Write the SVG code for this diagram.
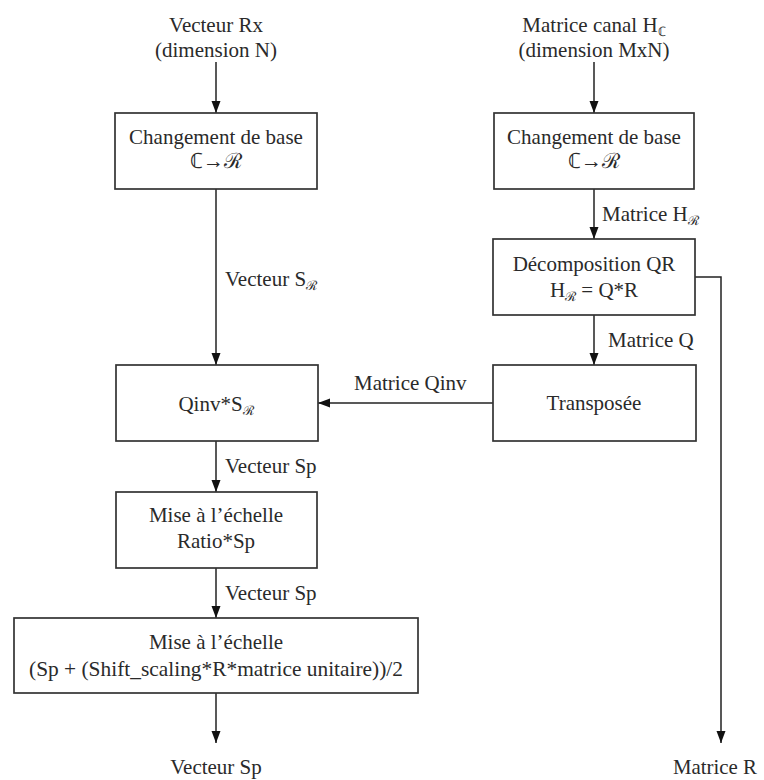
<svg xmlns="http://www.w3.org/2000/svg" width="764" height="780" viewBox="0 0 764 780">
<defs>
<style>
.t{font-size:21px;fill:#2a2a2a}
.c{text-anchor:middle}
.sub{font-size:13px}
.box{fill:#fff;stroke:#333;stroke-width:1.7}
.ln{fill:none;stroke:#222;stroke-width:1.5}
</style>
<marker id="ah" markerUnits="userSpaceOnUse" markerWidth="12" markerHeight="10" refX="12" refY="5" orient="auto">
<path d="M0,0.5 L12,5 L0,9.5 z" fill="#111"/>
</marker>
</defs>
<rect width="764" height="780" fill="#fff"/>

<g id="connectors">
<line class="ln" x1="216" y1="62" x2="216" y2="113" marker-end="url(#ah)"/>
<line class="ln" x1="216" y1="189" x2="216" y2="365" marker-end="url(#ah)"/>
<line class="ln" x1="216" y1="441" x2="216" y2="492" marker-end="url(#ah)"/>
<line class="ln" x1="216" y1="568" x2="216" y2="618" marker-end="url(#ah)"/>
<line class="ln" x1="216" y1="693" x2="216" y2="743" marker-end="url(#ah)"/>
<line class="ln" x1="594" y1="62" x2="594" y2="113" marker-end="url(#ah)"/>
<line class="ln" x1="594" y1="189" x2="594" y2="239" marker-end="url(#ah)"/>
<line class="ln" x1="594" y1="315" x2="594" y2="365" marker-end="url(#ah)"/>
<line class="ln" x1="493" y1="403" x2="318" y2="403" marker-end="url(#ah)"/>
<polyline class="ln" points="695,277 721,277 721,743" marker-end="url(#ah)"/>
<text class="t" font-family="Liberation Serif, serif" x="225" y="286">Vecteur S<tspan class="sub" dy="4">ℛ</tspan></text>
<text class="t" font-family="Liberation Serif, serif" x="602" y="221">Matrice H<tspan class="sub" dy="4">ℛ</tspan></text>
<text class="t" font-family="Liberation Serif, serif" x="608" y="347">Matrice Q</text>
<text class="t" font-family="Liberation Serif, serif" x="354" y="390">Matrice Qinv</text>
<text class="t" font-family="Liberation Serif, serif" x="225" y="473">Vecteur Sp</text>
<text class="t" font-family="Liberation Serif, serif" x="225" y="600">Vecteur Sp</text>
</g>

<g id="input-rx">
<text class="t c" font-family="Liberation Serif, serif" x="216" y="32">Vecteur Rx</text>
<text class="t c" font-family="Liberation Serif, serif" x="216" y="57">(dimension N)</text>
</g>
<g id="input-h">
<text class="t c" font-family="Liberation Serif, serif" x="594" y="32">Matrice canal H<tspan class="sub" dy="4">ℂ</tspan></text>
<text class="t c" font-family="Liberation Serif, serif" x="594" y="57">(dimension MxN)</text>
</g>

<g id="base-left">
<rect class="box" x="115" y="113" width="202" height="76"/>
<text class="t c" font-family="Liberation Serif, serif" x="216" y="144">Changement de base</text>
<text class="t c" font-family="Liberation Serif, serif" x="216" y="168" font-size="19">ℂ→ℛ</text>
</g>
<g id="base-right">
<rect class="box" x="494" y="113" width="200" height="76"/>
<text class="t c" font-family="Liberation Serif, serif" x="594" y="144">Changement de base</text>
<text class="t c" font-family="Liberation Serif, serif" x="594" y="168" font-size="19">ℂ→ℛ</text>
</g>
<g id="qr">
<rect class="box" x="493" y="239" width="202" height="76"/>
<text class="t c" font-family="Liberation Serif, serif" x="594" y="271">Décomposition QR</text>
<text class="t c" font-family="Liberation Serif, serif" x="594" y="297">H<tspan class="sub" dy="4">ℛ</tspan><tspan dy="-4"> = Q*R</tspan></text>
</g>
<g id="transpose">
<rect class="box" x="493" y="365" width="203" height="76"/>
<text class="t c" font-family="Liberation Serif, serif" x="594" y="410">Transposée</text>
</g>
<g id="qinv">
<rect class="box" x="116" y="365" width="202" height="76"/>
<text class="t c" font-family="Liberation Serif, serif" x="216" y="411">Qinv*S<tspan class="sub" dy="4">ℛ</tspan></text>
</g>
<g id="scale1">
<rect class="box" x="116" y="492" width="201" height="76"/>
<text class="t c" font-family="Liberation Serif, serif" x="216" y="522">Mise à l’échelle</text>
<text class="t c" font-family="Liberation Serif, serif" x="216" y="548">Ratio*Sp</text>
</g>
<g id="scale2">
<rect class="box" x="14" y="618" width="404" height="75"/>
<text class="t c" font-family="Liberation Serif, serif" x="216" y="649">Mise à l’échelle</text>
<text class="t c" font-family="Liberation Serif, serif" x="216" y="676" textLength="374" lengthAdjust="spacingAndGlyphs">(Sp + (Shift_scaling*R*matrice unitaire))/2</text>
</g>
<g id="out-sp">
<text class="t c" font-family="Liberation Serif, serif" x="216" y="774">Vecteur Sp</text>
</g>
<g id="out-r">
<text class="t" font-family="Liberation Serif, serif" x="673" y="774" textLength="84" lengthAdjust="spacingAndGlyphs">Matrice R</text>
</g>
</svg>
